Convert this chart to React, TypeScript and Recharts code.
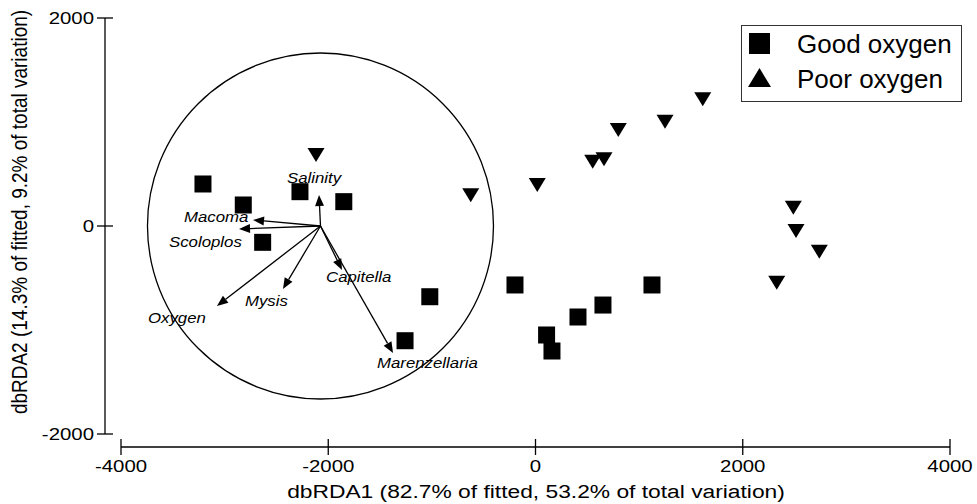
import {
    ScatterChart,
    Scatter,
    XAxis,
    YAxis,
    ReferenceDot,
    ReferenceLine,
    Legend,
    Label
} from "recharts";

// Site scores (dbRDA1, dbRDA2)
const GOOD_X = [-3209, -2820, -2633, -2273, -1850, -1020, -1259, -198, 107, 159, 410, 651, 1124];
const GOOD_Y = [404, 202, -157, 330, 234, -680, -1103, -567, -1048, -1202, -875, -760, -567];
const POOR_X = [-2118, -625, 17, 552, 661, 799, 1250, 1614, 2488, 2514, 2739, 2328];
const POOR_Y = [683, 295, 394, 618, 641, 923, 1003, 1218, 176, -48, -247, -545];

// Predictor vectors, drawn from the centre of the circle
const VECTOR_NAMES = ["Salinity", "Macoma", "Scoloplos", "Oxygen", "Mysis", "Capitella", "Marenzellaria"];
const VECTOR_X = [-2089, -2726, -2861, -3074, -2437, -1867, -1375];
const VECTOR_Y = [298, 58, -29, -769, -606, -423, -1221];
const ORIGIN_X = -2075;
const ORIGIN_Y = 0;

const X_TICKS = [-4000, -2000, 0, 2000, 4000];
const Y_TICKS = [-2000, 0, 2000];
const SERIES_NAMES = ["Good oxygen", "Poor oxygen"];

const goodData = GOOD_X.map((x, i) => ({ x, y: GOOD_Y[i] }));
const poorData = POOR_X.map((x, i) => ({ x, y: POOR_Y[i] }));

// label placement relative to arrow tip (px)
const LABEL_OFFSETS: Record<string, [number, number]> = {
    Salinity: [-32, -12],
    Macoma: [-69, 2],
    Scoloplos: [-70, 18],
    Oxygen: [-69, 17],
    Mysis: [-38, 17],
    Capitella: [-16, 12],
    Marenzellaria: [-16, 15]
};

const FONT = '"Liberation Sans", Arial, Helvetica, sans-serif';
const SX = 1.2; // the original figure is a little wider than tall

function StretchText({ x, y, size, anchor = "start", italic = false, rotate = 0, children }: any) {
    return (
        <text
            transform={`translate(${x},${y}) scale(${SX},1)${rotate ? ` rotate(${rotate})` : ""}`}
            textAnchor={anchor}
            fontSize={size}
            fontFamily={FONT}
            fontStyle={italic ? "italic" : "normal"}
            fill="#000"
        >
            {children}
        </text>
    );
}

const XTick = ({ x, y, payload }: any) => (
    <g>
        <line x1={x} x2={x} y1={y - 8} y2={y + 8} stroke="#000" strokeWidth={1.3} />
        <StretchText x={x} y={y + 25} size={17} anchor="middle">{payload.value}</StretchText>
    </g>
);

const YTick = ({ x, y, payload }: any) => (
    <g>
        <line x1={x - 8} x2={x + 8} y1={y} y2={y} stroke="#000" strokeWidth={1.3} />
        <StretchText x={x - 11} y={y + 6} size={17} anchor="end">{payload.value}</StretchText>
    </g>
);

const SquareShape = ({ cx, cy }: any) => (
    <rect x={cx - 8.5} y={cy - 8.5} width={17} height={17} fill="#000" />
);

const TriangleDown = ({ cx, cy }: any) => (
    <polygon points={`${cx - 8.5},${cy - 7} ${cx + 8.5},${cy - 7} ${cx},${cy + 7}`} fill="#000" />
);

function makeArrow(name: string) {
    return (p: any) => {
        const { x1, y1, x2, y2 } = p;
        const ang = Math.atan2(y2 - y1, x2 - x1);
        const len = 11;
        const half = 4.5;
        const bx = x2 - len * Math.cos(ang);
        const by = y2 - len * Math.sin(ang);
        const nx = -Math.sin(ang) * half;
        const ny = Math.cos(ang) * half;
        const [dx, dy] = LABEL_OFFSETS[name];
        return (
            <g>
                <line x1={x1} y1={y1} x2={bx} y2={by} stroke="#000" strokeWidth={1.3} />
                <polygon points={`${x2},${y2} ${bx + nx},${by + ny} ${bx - nx},${by - ny}`} fill="#000" />
                <StretchText x={x2 + dx} y={y2 + dy} size={14} italic>{name}</StretchText>
            </g>
        );
    };
}

const renderLegend = (props: any) => {
    const items = props.payload ?? [];
    return (
        <svg width={221} height={77} style={{ display: "block" }}>
            <rect x={0.5} y={0.5} width={220} height={76} fill="#fff" stroke="#333" strokeWidth={1} />
            {items.map((entry: any, i: number) => {
                const cy = i === 0 ? 18 : 52.5;
                return (
                    <g key={entry.value}>
                        {i === 0 ? (
                            <rect x={8} y={cy - 10} width={21} height={21} fill="#000" />
                        ) : (
                            <polygon points={`${7},${cy + 9.5} ${30},${cy + 9.5} ${18.5},${cy - 9.5}`} fill="#000" />
                        )}
                        <text x={56} y={cy + 10} fontSize={26} fontFamily={FONT} fill="#000">{entry.value}</text>
                    </g>
                );
            })}
        </svg>
    );
};

export default function App() {
    return (
        <div style={{ position: "absolute", left: 0, top: 0, background: "#fff" }}>
            <ScatterChart width={977} height={504} margin={{ top: 18, right: 27, left: 0, bottom: 0 }}>
                {/* spacer axes keep the real axis lines detached from the data range */}
                <XAxis xAxisId="aa" type="number" domain={[0, 1]} height={13} axisLine={false} tickLine={false} tick={false} />
                <YAxis yAxisId="aa" type="number" domain={[0, 1]} width={16} axisLine={false} tickLine={false} tick={false} />
                <XAxis
                    xAxisId="main"
                    type="number"
                    dataKey="x"
                    domain={[-4000, 4000]}
                    ticks={X_TICKS}
                    height={57}
                    axisLine={{ stroke: "#000", strokeWidth: 1.3 }}
                    tickLine={false}
                    tickSize={0}
                    tickMargin={0}
                    tick={<XTick />}
                    allowDataOverflow
                >
                    <Label
                        content={() => (
                            <StretchText x={536} y={498} size={19} anchor="middle">
                                dbRDA1 (82.7% of fitted, 53.2% of total variation)
                            </StretchText>
                        )}
                    />
                </XAxis>
                <YAxis
                    yAxisId="main"
                    type="number"
                    dataKey="y"
                    domain={[-2000, 2000]}
                    ticks={Y_TICKS}
                    width={105}
                    axisLine={{ stroke: "#000", strokeWidth: 1.3 }}
                    tickLine={false}
                    tickSize={0}
                    tickMargin={0}
                    tick={<YTick />}
                    allowDataOverflow
                >
                    <Label
                        content={() => (
                            <StretchText x={27} y={212} size={19} anchor="middle" rotate={-90}>
                                dbRDA2 (14.3% of fitted, 9.2% of total variation)
                            </StretchText>
                        )}
                    />
                </YAxis>
                <ReferenceDot
                    xAxisId="main"
                    yAxisId="main"
                    x={ORIGIN_X}
                    y={ORIGIN_Y}
                    r={173}
                    fill="none"
                    stroke="#000"
                    strokeWidth={1.3}
                    ifOverflow="visible"
                />
                {VECTOR_NAMES.map((name, i) => (
                    <ReferenceLine
                        key={name}
                        xAxisId="main"
                        yAxisId="main"
                        segment={[{ x: ORIGIN_X, y: ORIGIN_Y }, { x: VECTOR_X[i], y: VECTOR_Y[i] }]}
                        ifOverflow="visible"
                        stroke="#000"
                        shape={makeArrow(name)}
                    />
                ))}
                <Scatter
                    name={SERIES_NAMES[0]}
                    xAxisId="main"
                    yAxisId="main"
                    data={goodData}
                    fill="#000"
                    shape={SquareShape}
                    isAnimationActive={false}
                />
                <Scatter
                    name={SERIES_NAMES[1]}
                    xAxisId="main"
                    yAxisId="main"
                    data={poorData}
                    fill="#000"
                    shape={TriangleDown}
                    isAnimationActive={false}
                />
                <Legend
                    layout="horizontal"
                    verticalAlign="middle"
                    align="center"
                    content={renderLegend}
                    wrapperStyle={{ position: "absolute", left: 741, top: 25, width: 221, height: 77 }}
                />
            </ScatterChart>
        </div>
    );
}
